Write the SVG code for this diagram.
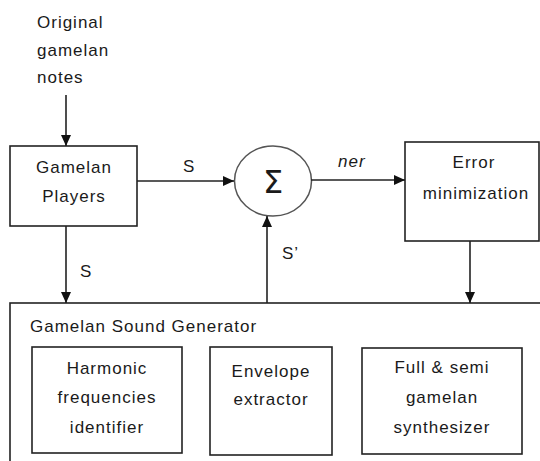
<svg xmlns="http://www.w3.org/2000/svg" width="540" height="461" viewBox="0 0 540 461">
<style>
text{font-family:"Liberation Sans",Arial,sans-serif;font-size:17px;letter-spacing:1px;fill:#1a1a1a}
.c{text-anchor:middle}
.box{fill:#fff;stroke:#222;stroke-width:1.6}
.ln{fill:none;stroke:#222;stroke-width:1.6}
</style>
<defs>
<marker id="ah" markerUnits="userSpaceOnUse" markerWidth="12" markerHeight="10" refX="11" refY="5" orient="auto">
<path d="M0,0 L11,5 L0,10 Z" fill="#111"/>
</marker>
</defs>
<rect width="540" height="461" fill="#fff"/>
<g id="input">
<text x="37" y="28">Original</text>
<text x="37" y="56">gamelan</text>
<text x="37" y="83">notes</text>
</g>
<g id="players">
<rect class="box" x="10" y="146" width="127" height="80"/>
<text class="c" x="74" y="173">Gamelan</text>
<text class="c" x="74" y="202">Players</text>
</g>
<g id="sum">
<ellipse cx="273" cy="181" rx="38.5" ry="35" fill="#fff" stroke="#555" stroke-width="1.5"/>
<text class="c" x="273" y="193" style="font-size:32px;letter-spacing:0;font-family:'DejaVu Sans',sans-serif">Σ</text>
</g>
<g id="error">
<rect class="box" x="405" y="142" width="134" height="99"/>
<text class="c" x="474" y="168">Error</text>
<text class="c" x="476" y="199">minimization</text>
</g>
<g id="generator">
<rect class="box" x="10" y="303" width="540" height="170"/>
<text x="30" y="332">Gamelan Sound Generator</text>
</g>
<g id="harmonic">
<rect class="box" x="32" y="347" width="150" height="106"/>
<text class="c" x="107" y="374">Harmonic</text>
<text class="c" x="107" y="403">frequencies</text>
<text class="c" x="107" y="433">identifier</text>
</g>
<g id="envelope">
<rect class="box" x="210" y="347" width="122" height="108"/>
<text class="c" x="271" y="377">Envelope</text>
<text class="c" x="271" y="405">extractor</text>
</g>
<g id="synth">
<rect class="box" x="362" y="348" width="160" height="106"/>
<text class="c" x="442" y="373">Full &amp; semi</text>
<text class="c" x="442" y="403">gamelan</text>
<text class="c" x="442" y="433">synthesizer</text>
</g>
<g id="connectors">
<line class="ln" x1="66" y1="95" x2="66" y2="146" marker-end="url(#ah)"/>
<line class="ln" x1="137" y1="181" x2="234" y2="181" marker-end="url(#ah)"/>
<line class="ln" x1="311" y1="180" x2="405" y2="180" marker-end="url(#ah)"/>
<line class="ln" x1="66" y1="226" x2="66" y2="303" marker-end="url(#ah)"/>
<line class="ln" x1="267" y1="303" x2="267" y2="216" marker-end="url(#ah)"/>
<line class="ln" x1="470" y1="241" x2="470" y2="303" marker-end="url(#ah)"/>
<text x="183" y="172">S</text>
<text x="338" y="167" style="font-style:italic">ner</text>
<text x="80" y="277">S</text>
<text x="282" y="259">S’</text>
</g>
</svg>
